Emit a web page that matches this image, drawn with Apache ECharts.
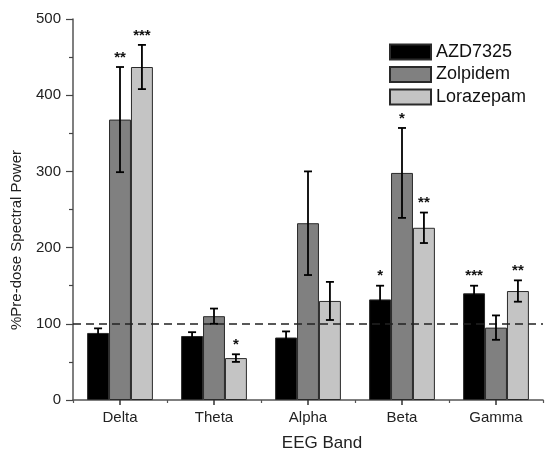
<!DOCTYPE html>
<html>
<head>
<meta charset="utf-8">
<script src="https://cdn.jsdelivr.net/npm/echarts@6/dist/echarts.min.js"></script>
<style>
html,body{margin:0;padding:0;background:#fff;}
#chart{width:545px;height:452px;}
</style>
</head>
<body>
<div id="chart"></div>
<script>
const categories = ['Delta', 'Theta', 'Alpha', 'Beta', 'Gamma'];
const seriesNames = ['AZD7325', 'Zolpidem', 'Lorazepam'];
const azd = [88, 84, 82, 132, 140];
const azdErr = [6, 5, 8, 18, 10];
const zolp = [368, 110, 232, 298, 95];
const zolpErr = [69, 10, 68, 59, 16];
const lora = [437, 55, 130, 226, 143];
const loraErr = [29, 5, 25, 20, 14];
const azdSig = ['', '', '', '*', '***'];
const zolpSig = ['**', '', '', '*', ''];
const loraSig = ['***', '*', '', '**', '**'];
const yTicks = [0, 100, 200, 300, 400, 500];
const baseline = 100;

const FONT = 'Liberation Sans, Arial, sans-serif';
const colors = ['#000000', '#808080', '#c4c4c4'];
const values = [azd, zolp, lora];
const errs = [azdErr, zolpErr, loraErr];
const sigs = [azdSig, zolpSig, loraSig];

const errData = [];
for (let s = 0; s < 3; s++) {
  for (let i = 0; i < categories.length; i++) {
    errData.push([i, values[s][i], errs[s][i], s, sigs[s][i]]);
  }
}

const chart = echarts.init(document.getElementById('chart'), null, {renderer: 'canvas'});

const barSeries = seriesNames.map((name, s) => ({
  name: name,
  type: 'bar',
  xAxisIndex: 0,
  data: values[s],
  barGap: '0%',
  barCategoryGap: '30%',
  itemStyle: {color: colors[s], borderColor: '#2a2a2a', borderWidth: 1},
  emphasis: {disabled: true},
  z: 2
}));

barSeries[0].markLine = {
  silent: true,
  symbol: ['none', 'none'],
  label: {show: false},
  lineStyle: {type: [8, 5], color: '#222', width: 1.5},
  data: [{yAxis: baseline}],
  z: 5
};

const option = {
  animation: false,
  backgroundColor: '#fff',
  textStyle: {fontFamily: FONT},
  grid: {left: 73, right: 2, top: 19, bottom: 52, containLabel: false},
  legend: {
    orient: 'vertical',
    left: 389,
    top: 43,
    padding: 0,
    itemWidth: 41,
    itemHeight: 15,
    itemGap: 4.5,
    icon: 'rect',
    data: seriesNames,
    textStyle: {fontFamily: FONT, fontSize: 18, color: '#111'}
  },
  xAxis: [
    {
      type: 'category',
      data: categories,
      boundaryGap: true,
      axisLine: {show: true, lineStyle: {color: '#555', width: 1.5}},
      axisTick: {show: true, alignWithLabel: true, length: 5, lineStyle: {color: '#333', width: 1.5}},
      axisLabel: {fontFamily: FONT, fontSize: 15, color: '#222', margin: 10},
      splitLine: {show: false}
    },
    {
      type: 'category',
      data: categories,
      position: 'bottom',
      boundaryGap: true,
      axisLine: {show: false},
      axisTick: {show: true, length: 3, lineStyle: {color: '#555', width: 1.2}},
      axisLabel: {show: false},
      splitLine: {show: false}
    }
  ],
  yAxis: {
    type: 'value',
    min: yTicks[0],
    max: yTicks[yTicks.length - 1],
    interval: 100,
    axisLine: {show: true, lineStyle: {color: '#555', width: 1.5}},
    axisTick: {show: true, length: 7, lineStyle: {color: '#444', width: 1.2}},
    minorTick: {show: true, splitNumber: 2, length: 4, lineStyle: {color: '#444', width: 1.2}},
    axisLabel: {fontFamily: FONT, fontSize: 15, color: '#222', margin: 12},
    splitLine: {show: false}
  },
  graphic: [
    {
      type: 'text',
      x: 17,
      y: 240,
      rotation: Math.PI / 2,
      style: {
        text: '%Pre-dose Spectral Power',
        fontFamily: FONT,
        fontSize: 15,
        fill: '#222',
        align: 'center',
        verticalAlign: 'middle'
      }
    },
    {
      type: 'text',
      x: 322,
      y: 443,
      style: {
        text: 'EEG Band',
        fontFamily: FONT,
        fontSize: 17,
        fill: '#222',
        align: 'center',
        verticalAlign: 'middle'
      }
    }
  ],
  series: barSeries.concat([{
    type: 'custom',
    name: 'errors',
    xAxisIndex: 0,
    silent: true,
    z: 10,
    data: errData,
    encode: {x: 0, y: 1},
    renderItem: function (params, api) {
      const cat = api.value(0);
      const val = api.value(1);
      const err = api.value(2);
      const s = api.value(3);
      const sig = errData[params.dataIndex][4];
      const center = api.coord([cat, val]);
      const catW = api.size([1, 0])[0];
      const bw = catW * 0.7 / 3;
      const x = center[0] + (s - 1) * bw;
      const top = api.coord([cat, val + err])[1];
      const bot = api.coord([cat, val - err])[1];
      const cap = 4;
      const st = {stroke: '#000', lineWidth: 1.8};
      const children = [
        {type: 'line', shape: {x1: x, y1: top, x2: x, y2: bot}, style: st},
        {type: 'line', shape: {x1: x - cap, y1: top, x2: x + cap, y2: top}, style: st},
        {type: 'line', shape: {x1: x - cap, y1: bot, x2: x + cap, y2: bot}, style: st}
      ];
      if (sig) {
        children.push({
          type: 'text',
          style: {
            text: sig,
            x: x,
            y: top - 2,
            fontFamily: FONT,
            fontSize: 15,
            fontWeight: 'bold',
            fill: '#111',
            align: 'center',
            verticalAlign: 'bottom'
          }
        });
      }
      return {type: 'group', children: children};
    }
  }])
};

chart.setOption(option);
</script>
</body>
</html>
